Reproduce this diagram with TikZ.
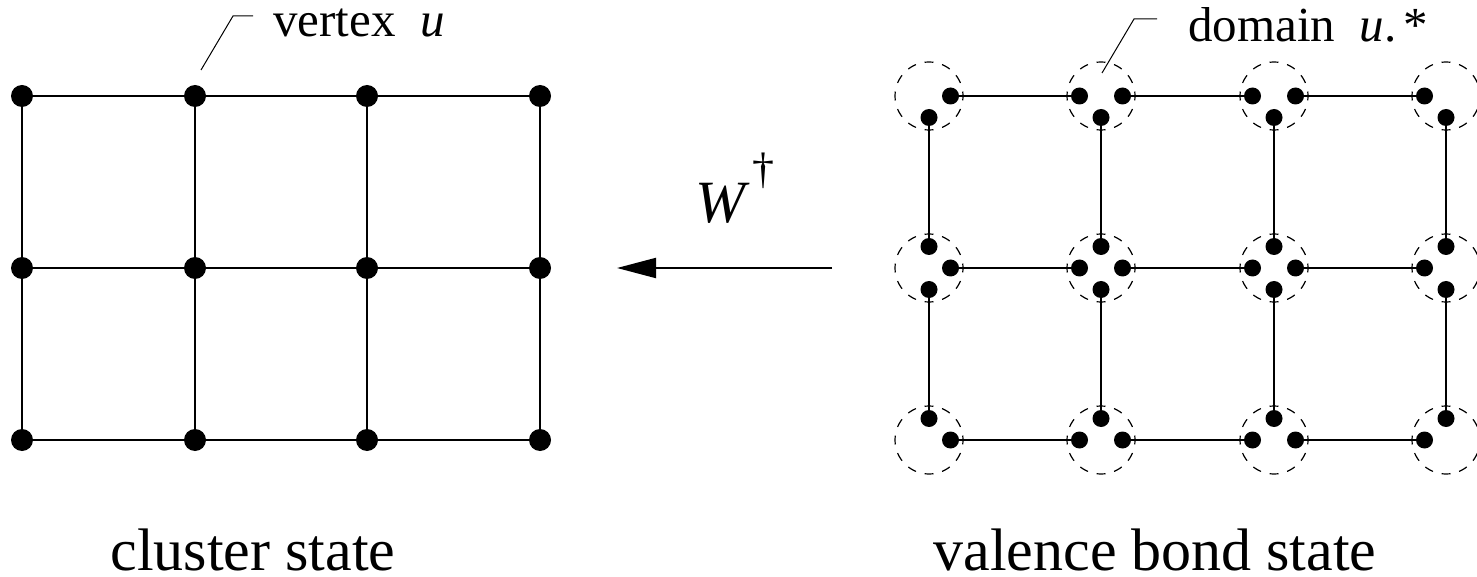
\documentclass[tikz,border=0pt]{standalone}
\usepackage{fontspec}
\setmainfont{Liberation Serif}
\usetikzlibrary{arrows.meta}
\begin{document}
\begin{tikzpicture}[x=0.5pt,y=-0.5pt,
  bigdot/.style={circle,fill=black,inner sep=0pt,minimum size=11pt},
  smalldot/.style={circle,fill=black,inner sep=0pt,minimum size=8.5pt},
  edge/.style={line width=0.65pt},
  leader/.style={line width=0.5pt},
  domcirc/.style={draw,circle,dash pattern=on 4.4505pt off 4.4505pt,dash phase=2.2252pt,line width=0.6pt,inner sep=0pt,minimum size=34pt},
  lbl/.style={font=\fontsize{24.5}{29}\selectfont,inner sep=0pt},
  title/.style={font=\fontsize{30}{36}\selectfont,inner sep=0pt}]
\useasboundingbox (0,0) rectangle (1477,577);

% ---- cluster state (left grid)
\foreach \x [count=\i] in {22,195,367,540}
  \foreach \y [count=\j] in {96,268,440}
    \node[bigdot] (v-\i-\j) at (\x,\y) {};
\foreach \i/\k in {1/2,2/3,3/4}
  \foreach \j in {1,2,3}
    \draw[edge] (v-\i-\j) -- (v-\k-\j);
\foreach \j/\k in {1/2,2/3}
  \foreach \i in {1,...,4}
    \draw[edge] (v-\i-\j) -- (v-\i-\k);

% ---- valence bond state (right grid)
\foreach \x [count=\i] in {929,1101,1274,1446}
  \foreach \y [count=\j] in {96,268,440} {
    \node[domcirc] (dom-\i-\j) at (\x,\y) {};
    \ifnum\i<4 \node[smalldot] (d-\i-\j-r) at ({\x+21.5},\y) {}; \fi
    \ifnum\i>1 \node[smalldot] (d-\i-\j-l) at ({\x-21.5},\y) {}; \fi
    \ifnum\j>1 \node[smalldot] (d-\i-\j-t) at (\x,{\y-21.5}) {}; \fi
    \ifnum\j<3 \node[smalldot] (d-\i-\j-b) at (\x,{\y+21.5}) {}; \fi
  }
\foreach \i/\k in {1/2,2/3,3/4}
  \foreach \j in {1,2,3}
    \draw[edge] (d-\i-\j-r) -- (d-\k-\j-l);
\foreach \j/\k in {1/2,2/3}
  \foreach \i in {1,...,4}
    \draw[edge] (d-\i-\j-b) -- (d-\i-\k-t);

% ---- labels with leaders
\coordinate (vl0) at (201,70);
\coordinate (vl1) at (233,16);
\coordinate (vl2) at (253,16);
\draw[leader] (vl0) -- (vl1) -- (vl2);
\node[lbl,anchor=base west] (vtx) at (273,37) {vertex\hspace{0.5em}\textit{u}};

\coordinate (dl0) at (1102,73);
\coordinate (dl1) at (1134,19);
\coordinate (dl2) at (1157,19);
\draw[leader] (dl0) -- (dl1) -- (dl2);
\node[lbl,anchor=base west] (dlab) at (1188,42) {domain\hspace{0.5em}\textit{u}.\hspace{0.15em}*};

% ---- map arrow
\coordinate (aS) at (832,268);
\coordinate (aE) at (617,268);
\draw[line width=1pt,-{Triangle[length=19.5pt,width=10pt]}] (aS) -- (aE);
\node[font=\fontsize{30}{36}\selectfont,inner sep=0pt,anchor=base west] (W) at (695,223) {\textit{W}};
\node[font=\fontsize{22}{26}\selectfont,inner sep=0pt] (dag) at (763,171) {†};

% ---- titles
\node[title,anchor=base west] (cs) at (110,570) {cluster state};
\node[title,anchor=base west] (vbs) at (933,570) {valence bond state};
\end{tikzpicture}
\end{document}
